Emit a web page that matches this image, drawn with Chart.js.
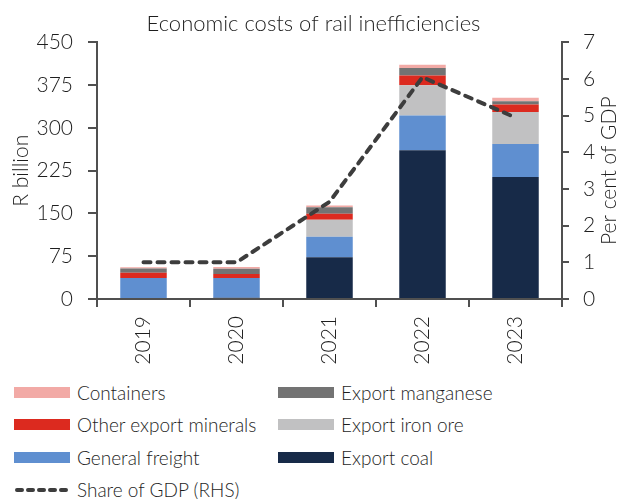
<!DOCTYPE html>
<html>
<head>
<meta charset="utf-8">
<script src="https://cdn.jsdelivr.net/npm/chart.js@4/dist/chart.umd.min.js"></script>
<style>
  body { margin: 0; background: #fff; font-family: Lato, "Open Sans", sans-serif; }
  #wrap { position: relative; width: 627px; height: 499px; }
  #chartBox { position: absolute; left: 0; top: 0; width: 627px; height: 372px; }
  #legend { position: absolute; left: 0; top: 376px; width: 627px; }
  .item { position: absolute; height: 32px; display: flex; align-items: center;
          font-size: 19px; font-weight: 300; color: #1e1e1e; white-space: nowrap; }
  .sw { width: 56px; height: 11px; margin-right: 7px; }
</style>
</head>
<body>
<div id="wrap">
  <div id="chartBox"><canvas id="chart"></canvas></div>
  <div id="legend"></div>
</div>
<script>
// =======================================================
// DATA (R billion, stacked from the bottom up)
// =======================================================
const years = ["2019", "2020", "2021", "2022", "2023"];

const exportCoal     = [0, 2, 73, 261, 214];
const generalFreight = [37, 35, 36, 61, 58];
const exportIronOre  = [0, 0, 30, 53, 56];
const otherMinerals  = [9, 7, 10.5, 17, 13];
const exportMangan   = [7.5, 9, 11.5, 13, 6];
const containers     = [2, 3, 3, 6, 6];

const shareOfGdp = [1.0, 1.0, 2.65, 6.05, 4.95];

const leftTicks  = [0, 75, 150, 225, 300, 375, 450];
const rightTicks = [0, 1, 2, 3, 4, 5, 6, 7];

const AXIS = "#505050";
const TEXT = "#1e1e1e";
const FONT = "Lato, 'Open Sans', sans-serif";

function bar(label, data, color) {
    return {
        type: "bar", label, data, backgroundColor: color,
        borderWidth: 0, stack: "costs", yAxisID: "y", order: 1,
        categoryPercentage: 1, barPercentage: 0.5
    };
}

const datasets = [
    bar("Export coal", exportCoal, "#172a48"),
    bar("General freight", generalFreight, "#5f8fd0"),
    bar("Export iron ore", exportIronOre, "#c1c1c2"),
    bar("Other export minerals", otherMinerals, "#dc2a1f"),
    bar("Export manganese", exportMangan, "#737373"),
    bar("Containers", containers, "#f2aaa6"),
    {
        type: "line", label: "Share of GDP (RHS)", data: shareOfGdp,
        yAxisID: "y1", order: 0, borderColor: "#3d3d3d", borderWidth: 4,
        borderDash: [7, 7], borderCapStyle: "round", pointRadius: 0,
        fill: false, tension: 0
    }
];

// right axis title reads bottom-to-top, like the left one
const rightTitle = {
    id: "rightTitle",
    afterDraw(chart) {
        const ctx = chart.ctx;
        const area = chart.chartArea;
        ctx.save();
        ctx.translate(609, (area.top + area.bottom) / 2);
        ctx.rotate(-Math.PI / 2);
        ctx.font = "300 21px " + FONT;
        ctx.fillStyle = TEXT;
        ctx.textAlign = "center";
        ctx.textBaseline = "middle";
        ctx.fillText("Per cent of GDP", 0, 0);
        ctx.restore();
    }
};

const tickFont = { family: FONT, size: 21, weight: 300 };

new Chart(document.getElementById("chart"), {
    data: { labels: years, datasets },
    plugins: [rightTitle],
    options: {
        responsive: true,
        maintainAspectRatio: false,
        animation: false,
        layout: { padding: 0 },
        plugins: {
            legend: { display: false },
            tooltip: { enabled: false },
            title: {
                display: true,
                text: "Economic costs of rail inefficiencies",
                color: TEXT,
                font: { family: FONT, size: 22, weight: 300 },
                padding: { top: 11, bottom: 5 }
            }
        },
        scales: {
            x: {
                stacked: true,
                grid: { display: true, drawOnChartArea: false, offset: true,
                        tickLength: 8, tickColor: AXIS, lineWidth: 2 },
                border: { display: true, color: AXIS, width: 2 },
                ticks: { color: TEXT, font: tickFont, minRotation: 90, maxRotation: 90, padding: 9 },
                afterFit: s => { s.height = 73; }
            },
            y: {
                position: "left",
                stacked: true,
                min: 0, max: 450,
                afterBuildTicks: s => { s.ticks = leftTicks.map(v => ({ value: v })); },
                grid: { drawOnChartArea: false, tickLength: 9, tickColor: AXIS, lineWidth: 2 },
                border: { display: true, color: AXIS, width: 2 },
                ticks: { color: TEXT, font: tickFont, padding: 15 },
                title: { display: true, text: "R billion", color: TEXT,
                         font: { family: FONT, size: 21, weight: 300 }, padding: { top: 9 } },
                afterFit: s => { s.width = 97; }
            },
            y1: {
                position: "right",
                min: 0, max: 7,
                afterBuildTicks: s => { s.ticks = rightTicks.map(v => ({ value: v })); },
                grid: { drawOnChartArea: false, tickLength: 7, tickColor: AXIS, lineWidth: 2 },
                border: { display: true, color: AXIS, width: 2 },
                ticks: { color: TEXT, font: tickFont, padding: 14 },
                afterFit: s => { s.width = 65; }
            }
        }
    }
});

// =======================================================
// LEGEND (two columns, as in the source)
// =======================================================
const legendOrder = [
    ["Containers", 14, 0], ["Export manganese", 278, 0],
    ["Other export minerals", 14, 1], ["Export iron ore", 278, 1],
    ["General freight", 14, 2], ["Export coal", 278, 2],
    ["Share of GDP (RHS)", 14, 3]
];

const legend = document.getElementById("legend");
legendOrder.forEach(([name, x, row]) => {
    const ds = datasets.find(d => d.label === name);
    let swatch;
    if (ds.type === "line") {
        swatch = `<svg class="sw" width="56" height="11" style="height:11px">
            <line x1="3" y1="6" x2="54" y2="6" stroke="${ds.borderColor}" stroke-width="4"
                  stroke-dasharray="5 6" stroke-linecap="round"/></svg>`;
    } else {
        swatch = `<div class="sw" style="background:${ds.backgroundColor}"></div>`;
    }
    legend.insertAdjacentHTML("beforeend",
        `<div class="item" style="left:${x}px; top:${row * 32.5}px">${swatch}${name}</div>`);
});
</script>
</body>
</html>
